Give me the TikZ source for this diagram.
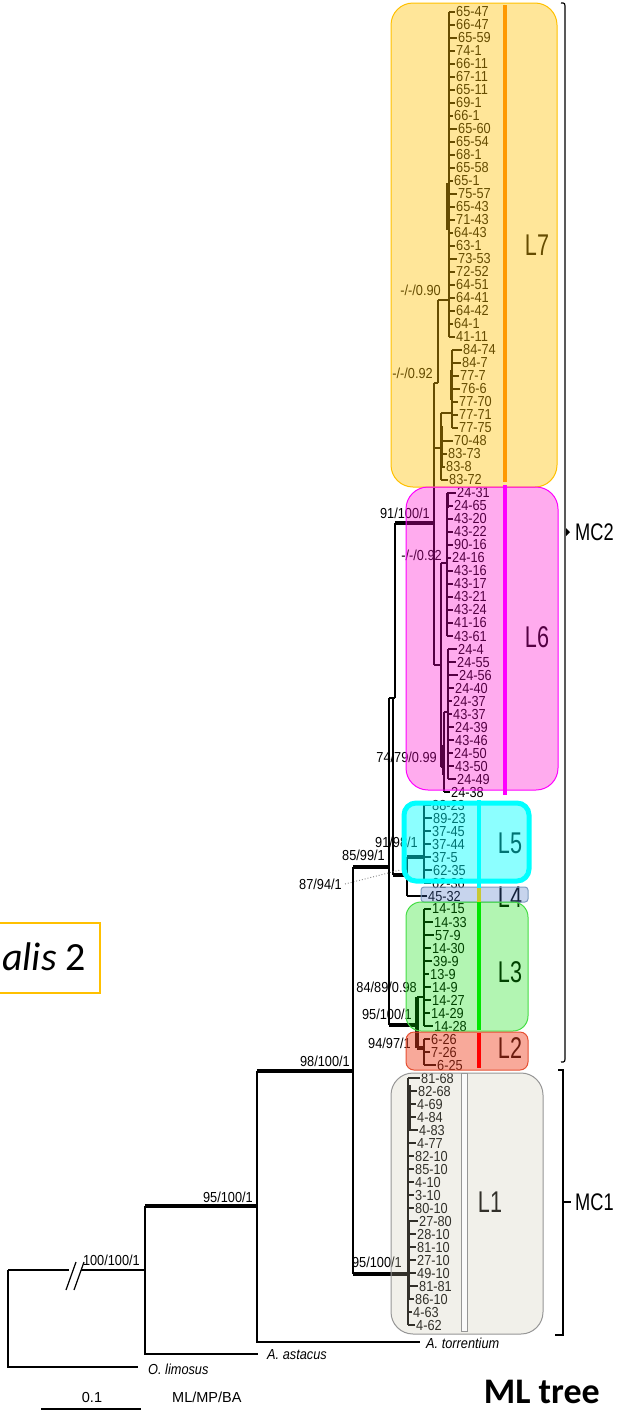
\documentclass[tikz,border=0pt]{standalone}
\usepackage{fontspec}
\setmainfont{Liberation Sans}
\newfontfamily\calib{Carlito}
\newcommand\sqz[1]{\scalebox{0.88}[1]{#1}}
\newcommand\sqL[1]{\scalebox{0.72}[1]{#1}}
\newcommand\sqM[1]{\scalebox{0.76}[1]{#1}}
\definecolor{cL7}{RGB}{255,192,0}
\definecolor{cL7bar}{RGB}{255,153,0}
\definecolor{cL6}{RGB}{255,0,204}
\definecolor{cL6bd}{RGB}{255,0,255}
\definecolor{cL5}{RGB}{0,255,255}
\definecolor{cL4}{RGB}{68,114,196}
\definecolor{cL4bd}{RGB}{127,156,192}
\definecolor{cL4bar}{RGB}{200,200,50}
\definecolor{cL3}{RGB}{0,221,0}
\definecolor{cL3bd}{RGB}{68,221,68}
\definecolor{cL3bar}{RGB}{0,230,0}
\definecolor{cL2}{RGB}{240,64,32}
\definecolor{cL2bd}{RGB}{230,80,50}
\definecolor{cL1}{RGB}{200,195,170}
\definecolor{cL1bd}{RGB}{150,150,150}
\definecolor{cyel}{RGB}{255,192,0}
\tikzset{
 tax/.style={font=\fontsize{14.5}{16}\selectfont, anchor=west, inner sep=0pt},
 supp/.style={font=\fontsize{14.5}{16}\selectfont, anchor=east, inner sep=0pt},
 og/.style={font=\fontsize{14.5}{16}\selectfont\itshape, anchor=west, inner sep=0pt},
 lab/.style={font=\fontsize{30}{32}\selectfont, inner sep=0pt},
 br/.style={line width=1.2pt},
 thk/.style={line width=4.5pt},
 mid/.style={line width=2.6pt},
 box/.style={line width=1pt},
 cbar/.style={line width=4pt},
}
\begin{document}
\begin{tikzpicture}[x=1pt,y=-1pt]
\useasboundingbox (0,0) rectangle (616,1411);
% ---------- taxa ----------
\foreach \i/\t/\lx/\bx in {
0/65-47/456/449,1/66-47/456/449,2/65-59/458/449,3/74-1/456/449,4/66-11/456/449,
5/67-11/456/449,6/65-11/456/449,7/69-1/456/449,8/66-1/454/449,9/65-60/458/449,
10/65-54/456/449,11/68-1/456/449,12/65-58/456/449,13/65-1/454/449,14/75-57/458/449,
15/65-43/456/449,16/71-43/456/449,17/64-43/454/449,18/63-1/456/449,19/73-53/458/449,
20/72-52/456/449,21/64-51/456/449,22/64-41/456/449,23/64-42/456/449,24/64-1/454/449,
25/41-11/456/449,26/84-74/463/452,27/84-7/462/452,28/77-7/460/452,29/76-6/461/452,
30/77-70/459/452,31/77-71/459/452,32/77-75/459/452,33/70-48/454/441,34/83-73/448/441,
35/83-8/446/441,36/83-72/449/441,
37/24-31/457/447,38/24-65/454/447,39/43-20/454/447,40/43-22/454/447,41/90-16/454/447,
42/24-16/452/447,43/43-16/454/447,44/43-17/454/447,45/43-21/454/447,46/43-24/454/447,
47/41-16/454/447,48/43-61/454/447,49/24-4/458/448,50/24-55/457/448,51/24-56/459/448,
52/24-40/455/448,53/24-37/453/448,54/43-37/453/448,55/24-39/455/448,56/43-46/455/448,
57/24-50/454/448,58/43-50/455/448,59/24-49/457/448,60/24-38/451/444,
61/88-23/432/424,62/89-23/433/424,63/37-45/432/424,64/37-44/432/424,65/37-5/432/424,
66/62-35/433/424,67/62-36/432/424,
68/45-32/428/407,
69/14-15/432/424,70/14-33/434/424,71/57-9/435/424,72/14-30/432/424,73/39-9/433/424,
74/13-9/430/424,75/14-9/432/424,76/14-27/432/424,77/14-29/431/424,78/14-28/434/424,
79/6-26/431/424,80/7-26/431/424,81/6-25/437/424,
82/81-68/421/408,83/82-68/418/408,84/4-69/417/408,85/4-84/417/408,86/4-83/419/408,
87/4-77/417/408,88/82-10/415/408,89/85-10/415/408,90/4-10/415/408,91/3-10/415/408,
92/80-10/415/408,93/27-80/419/408,94/28-10/417/408,95/81-10/417/408,96/27-10/417/408,
97/49-10/417/408,98/81-81/419/408,99/86-10/415/408,100/4-63/413/408,101/4-62/416/408}
{
  \pgfmathsetmacro\yy{12+13*\i}
  \node[tax] (t\i) at (\lx,\yy) {\sqz{\t}};
  \draw[br] (\bx,\yy) -- ([xshift=-1pt]t\i.west);
}
% ---------- tree ----------
% L7
\draw[br] (449,12) -- (449,337);
\draw[mid] (449,25) -- (449,88);
\draw[mid] (447,183) -- (447,230);
\coordinate (n90) at (438,300);
\draw[br] (n90) -- (449,300);
\draw[br] (n90) -- (438,383);
\draw[br] (452,350) -- (452,428);
\draw[mid] (451,370) -- (451,400);
\coordinate (n7b) at (441,413);
\draw[br] (n7b) -- (452,413);
\draw[br] (n7b) -- (441,480);
\draw[mid] (442,426) -- (442,467);
\coordinate (n92) at (434,383);
\draw[br] (n92) -- (438,383);
\draw[br] (434,448) -- (441,448);
\draw[br] (n92) -- (434,665);
\coordinate (n91) at (395,523);
\draw[thk] (n91) -- (435,523);
% L6
\coordinate (n6) at (441,665);
\draw[br] (434,665) -- (n6);
\draw[br] (441,563) -- (441,767);
\draw[br] (441,563) -- (447,563);
\draw[br] (447,493) -- (447,636);
\draw[mid] (448,493) -- (448,508);
\draw[br] (441,767) -- (444,767);
\draw[br] (444,712) -- (444,792);
\draw[br] (444,712) -- (448,712);
\draw[br] (448,649) -- (448,779);
\draw[mid] (448,649) -- (448,665);
\draw[line width=3pt] (443,745) -- (443,775);
% backbone
\draw[br] (n91) -- (395,698);
\draw[br] (389,698) -- (395,698);
\coordinate (n85) at (389,867);
\draw[br] (389,698) -- (389,1025);
\draw[br] (393,698) -- (393,875);
\draw[thk] (353,867) -- (n85);
\draw[thk] (393,875) -- (407,875);
\draw[br] (407,857) -- (407,896);
\draw[thk] (407,857) -- (424,857);
\draw[br] (424,805) -- (424,883);
\draw[mid] (424,830) -- (424,850);
\draw[gray, dotted, line width=0.9pt] (345,884) -- (400,870);
% L3 / L2
\draw[thk] (389,1025) -- (417,1025);
\draw[thk] (417,997) -- (417,1048);
\draw[br] (417,997) -- (424,997);
\draw[br] (424,909) -- (424,1026);
\draw[mid] (424,990) -- (424,1012);
\draw[thk] (417,1048) -- (424,1048);
\draw[br] (424,1039) -- (424,1065);
% deep nodes
\coordinate (n98) at (353,1071);
\draw[br] (353,867) -- (353,1274);
\draw[thk] (257,1071) -- (n98);
\draw[thk] (353,1274) -- (408,1274);
\draw[br] (408,1078) -- (408,1325);
\draw[line width=3pt] (408,1222) -- (408,1300);
\draw[mid] (410,1085) -- (410,1130);
\draw[br] (257,1071) -- (257,1342) -- (420,1342);
\draw[thk] (145,1206) -- (257,1206);
\draw[br] (145,1206) -- (145,1354) -- (258,1354);
\draw[br] (8,1270) -- (69,1270);
\draw[br] (81,1270) -- (145,1270);
\draw[br] (66,1290) -- (76,1262);
\draw[br] (74,1290) -- (84,1262);
\draw[br] (8,1270) -- (8,1367) -- (138,1367);
% ---------- support labels ----------
\node[supp] (s1) at (441,290) {\sqz{-/-/0.90}};
\node[supp] (s2) at (433,373) {\sqz{-/-/0.92}};
\node[supp] (s3) at (442,555) {\sqz{-/-/0.92}};
\node[supp] (s4) at (437,757) {\sqz{74/79/0.99}};
\node[supp] (s5) at (430,513) {\sqz{91/100/1}};
\node[supp] (s6) at (418,842) {\sqz{91/98/1}};
\node[supp] (s7) at (385,855) {\sqz{85/99/1}};
\node[supp] (s8) at (342,884) {\sqz{87/94/1}};
\node[supp] (s9) at (417,987) {\sqz{84/89/0.98}};
\node[supp] (s10) at (412,1014) {\sqz{95/100/1}};
\node[supp] (s11) at (411,1043) {\sqz{94/97/1}};
\node[supp] (s12) at (350,1061) {\sqz{98/100/1}};
\node[supp] (s13) at (402,1262) {\sqz{95/100/1}};
\node[supp] (s14) at (253,1197) {\sqz{95/100/1}};
\node[supp] (s15) at (140,1260) {\sqz{100/100/1}};
\node[og] (o1) at (426,1343) {\sqz{A. torrentium}};
\node[og] (o2) at (267,1355) {\sqz{A. astacus}};
\node[og] (o3) at (148,1369) {\sqz{O. limosus}};
% ---------- lineage labels ----------
\node[lab] (L7) at (537,245) {\sqL{L7}};
\node[lab] (L6) at (537,637) {\sqL{L6}};
\node[lab] (L5) at (510,843) {\sqL{L5}};
\node[lab] (L4) at (510,897) {\sqL{L4}};
\node[lab] (L3) at (510,972) {\sqL{L3}};
\node[lab] (L2) at (510,1048) {\sqL{L2}};
\node[lab] (L1) at (490,1202) {\sqL{L1}};
% ---------- translucent boxes ----------
\draw[box, draw=cL7, fill=cL7, fill opacity=0.4, draw opacity=1, rounded corners=22pt] (391,3) rectangle (557,487);
\draw[box, draw=cL6bd, fill=cL6, fill opacity=0.33, rounded corners=22pt] (406,487) rectangle (558,790);
\draw[line width=5pt, draw=cL5, fill=cL5, fill opacity=0.45, rounded corners=12pt] (404,803) rectangle (529,881);
\draw[box, draw=cL4bd, fill=cL4, fill opacity=0.3, rounded corners=3pt] (421,887) rectangle (528,902);
\draw[box, draw=cL3bd, fill=cL3, fill opacity=0.3, rounded corners=15pt] (406,902) rectangle (528,1031);
\draw[box, draw=cL2bd, fill=cL2, fill opacity=0.45, rounded corners=8pt] (406,1032) rectangle (528,1070);
\draw[box, draw=cL1bd, fill=cL1, fill opacity=0.25, rounded corners=22pt] (391,1073) rectangle (543,1334);
\draw[line width=0.8pt, draw=cL1bd, fill=white!96!gray] (461,1073) rectangle (467,1331);
% ---------- colour bars ----------
\draw[cbar, cL7bar] (505,5) -- (505,482);
\draw[cbar, cL6bd] (505,485) -- (505,795);
\draw[cbar, cL5] (479,800) -- (479,888);
\draw[cbar, cL4bar] (479,888) -- (479,902);
\draw[cbar, cL3bar] (479,902) -- (479,1030);
\draw[cbar, red] (479,1033) -- (479,1068);
% ---------- MC brackets ----------
\draw[br] (561,3) .. controls (565,3) .. (565,9) -- (565,1056) .. controls (565,1062) .. (561,1062);
\fill (566,528) -- (570,532) -- (566,536) -- cycle;
\node[font=\fontsize{24}{26}\selectfont, anchor=west, inner sep=0pt] (mc2) at (575,532) {\sqM{MC2}};
\draw[br] (558,1070) -- (563,1070) -- (563,1335) -- (555,1335);
\draw[br] (563,1202) -- (571,1202);
\node[font=\fontsize{24}{26}\selectfont, anchor=west, inner sep=0pt] (mc1) at (575,1202) {\sqM{MC1}};
% ---------- left box ----------
\draw[line width=1.5pt, cyel] (-5,923) rectangle (100,993);
\node[anchor=west, inner sep=0pt, font=\calib\fontsize{40}{44}\selectfont] (sp) at (2,957) {\itshape alis\upshape{} 2};
% ---------- scale & legend ----------
\node[font=\fontsize{14.5}{16}\selectfont, inner sep=0pt] (sc) at (92,1397) {0.1};
\draw[br] (41,1409) -- (141,1409);
\node[font=\fontsize{14.5}{16}\selectfont, anchor=west, inner sep=0pt] (leg) at (172,1397) {ML/MP/BA};
\node[anchor=east, inner sep=0pt, font=\calib\bfseries\fontsize{36}{40}\selectfont] (title) at (600,1392) {ML tree};
\end{tikzpicture}
\end{document}
